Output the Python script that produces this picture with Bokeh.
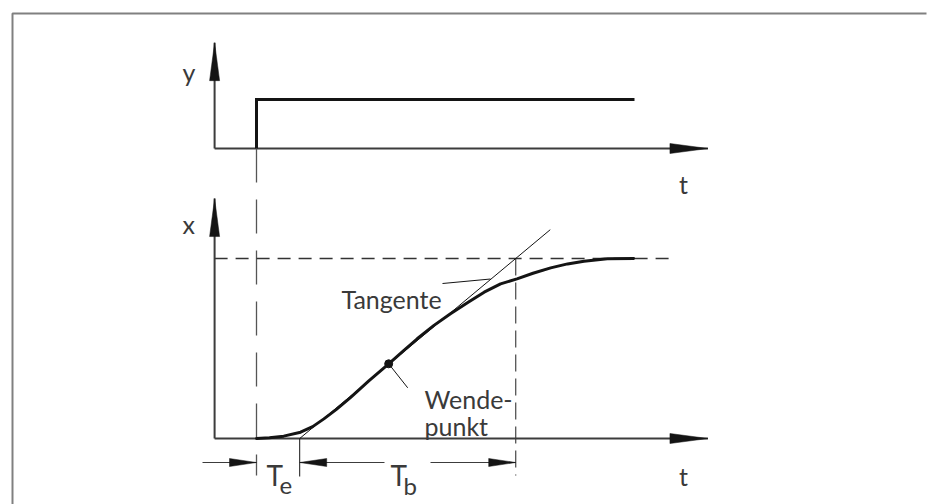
from bokeh.plotting import figure
from bokeh.models import Range1d
from bokeh.core.properties import value
from bokeh.embed import file_html
from bokeh.resources import INLINE

# ---------------- data (normalised units) ----------------
# step input y(t)
step_t = [0.0, 0.0, 8.75]
step_y = [0.0, 1.0, 1.0]

# step response x(t) (1 = final value)
resp_t = [0.0, 0.3, 0.63, 1.02, 1.3, 1.56, 1.85, 2.18, 2.6, 3.06, 3.4, 3.72,
          4.1, 4.49, 4.9, 5.27, 5.65, 6.03, 6.4, 6.81, 7.2, 7.58, 8.12, 8.73]
resp_x = [0.0, 0.004, 0.013, 0.035, 0.066, 0.109, 0.162, 0.229, 0.32, 0.415,
          0.487, 0.554, 0.627, 0.693, 0.757, 0.813, 0.859, 0.887, 0.918, 0.948,
          0.970, 0.985, 0.998, 1.0]

# inflection point (Wendepunkt)
infl_t = 3.06
infl_x = 0.415

# characteristic times
Te = 1.0
Tb = 5.0
tangent_end_t = 6.8

# axis extents
t_axis = [-0.97, 10.45]
u_axis_top = 2.16
v_axis_top = 1.333
level_end_t = 9.58

# labels
label_y = "y"
label_x = "x"
label_t = "t"
label_tangent = "Tangente"
label_wende = ["Wende-", "punkt"]
label_T = "T"
label_e = "e"
label_b = "b"

# ---------------- layout helpers (image px <-> data) ----------------
SX = 43.2    # px per time unit
SV = 180.0   # px per unit, lower panel
SU = 49.0    # px per unit, upper panel
X0, V0, U0 = 256.0, 438.0, 148.0
OFF = 0


def X2t(X):
    return (X - X0) / SX


def Y2v(Y):
    return (V0 - Y) / SV


def Y2u(Y):
    return (U0 - Y) / SU


def t2X(t):
    return X0 + SX * t


def v2Y(v):
    return V0 - SV * v


def u2Y(u):
    return U0 - SU * u


W, H = 927, 504
p = figure(width=W, height=H, output_backend="svg", toolbar_location=None,
           x_range=Range1d(X2t(OFF), X2t(OFF + W)),
           y_range=Range1d(Y2v(OFF + H), Y2v(OFF)),
           x_axis_type=None, y_axis_type=None, min_border=0)
p.extra_y_ranges = {"upper": Range1d(Y2u(OFF + H), Y2u(OFF))}
p.outline_line_color = None
p.xgrid.visible = False
p.ygrid.visible = False
p.background_fill_color = "white"
p.border_fill_color = "white"

AX = "#3c3c3c"
BLK = "#141414"
TXT = "#3a3a3a"


def tri(tipX, tipY, d, L, w):
    if d == "right":
        pts = [(tipX, tipY), (tipX - L, tipY - w), (tipX - L, tipY + w)]
    elif d == "left":
        pts = [(tipX, tipY), (tipX + L, tipY - w), (tipX + L, tipY + w)]
    else:
        pts = [(tipX, tipY), (tipX - w, tipY + L), (tipX + w, tipY + L)]
    return [q[0] for q in pts], [q[1] for q in pts]


# frame (left and top border)
p.line([X2t(12), X2t(12), X2t(926)], [Y2v(OFF + H), Y2v(13), Y2v(13)],
       line_color="#808080", line_width=2)

# ---------------- upper panel ----------------
p.line([t_axis[0], t_axis[0]], [0, u_axis_top], y_range_name="upper",
       line_color=AX, line_width=2)
p.line([t_axis[0], t_axis[1]], [0, 0], y_range_name="upper",
       line_color=AX, line_width=2)
xs, ys = tri(t2X(t_axis[0]), u2Y(u_axis_top), "up", 38, 5)
p.patch([X2t(v) for v in xs], [Y2u(v) for v in ys], y_range_name="upper",
        fill_color=BLK, line_color=BLK, line_width=0.5)
xs, ys = tri(t2X(t_axis[1]), u2Y(0), "right", 38, 5)
p.patch([X2t(v) for v in xs], [Y2u(v) for v in ys], y_range_name="upper",
        fill_color=BLK, line_color=BLK, line_width=0.5)
p.line(step_t, step_y, y_range_name="upper", line_color=BLK, line_width=3,
       line_join="miter")

# ---------------- lower panel ----------------
# dashed guides
p.line([0, 0], [Y2v(u2Y(0)), Y2v(475)], line_color="#555555", line_width=1.3,
       line_dash="34 17")
p.line([Te + Tb, Te + Tb], [1, Y2v(475)], line_color="#555555", line_width=1.3,
       line_dash="17 7")
p.line([t_axis[0], level_end_t], [1, 1], line_color="#333333", line_width=1.3,
       line_dash="13 8")

p.line([t_axis[0], t_axis[0]], [0, v_axis_top], line_color=AX, line_width=2)
p.line([t_axis[0], t_axis[1]], [0, 0], line_color=AX, line_width=2)
xs, ys = tri(t2X(t_axis[0]), v2Y(v_axis_top), "up", 38, 5)
p.patch([X2t(v) for v in xs], [Y2v(v) for v in ys],
        fill_color=BLK, line_color=BLK, line_width=0.5)
xs, ys = tri(t2X(t_axis[1]), v2Y(0), "right", 38, 5)
p.patch([X2t(v) for v in xs], [Y2v(v) for v in ys],
        fill_color=BLK, line_color=BLK, line_width=0.5)

# tangent
p.line([Te, tangent_end_t], [0, (tangent_end_t - Te) / Tb],
       line_color=BLK, line_width=1)

# response curve
p.line(resp_t, resp_x, line_color=BLK, line_width=3, line_join="round",
       line_cap="round")
p.scatter([infl_t], [infl_x], size=8, color=BLK)

# pointers
p.line([X2t(442), X2t(490)], [Y2v(283), Y2v(278.5)], line_color=BLK,
       line_width=1)
p.line([infl_t, X2t(t2X(infl_t) + 19)], [infl_x, Y2v(v2Y(infl_x) + 24)],
       line_color=BLK, line_width=1)

# dimension line Te / Tb
yd = Y2v(462)
p.line([Te, Te], [0, Y2v(476)], line_color=BLK, line_width=1)
p.line([X2t(202), 0], [yd, yd], line_color=AX, line_width=1)
p.line([Te, X2t(384)], [yd, yd], line_color=AX, line_width=1)
p.line([X2t(430), Te + Tb], [yd, yd], line_color=AX, line_width=1)
for tipt, d in [(0.0, "right"), (Te, "left"), (Te + Tb, "right")]:
    xs, ys = tri(t2X(tipt), 462, d, 27, 4)
    p.patch([X2t(v) for v in xs], [Y2v(v) for v in ys],
            fill_color=BLK, line_color=BLK, line_width=0.5)

# ---------------- texts ----------------
FONT = value("Lato")


def txt(X, Y, s, size, align="left"):
    p.text([X2t(X)], [Y2v(Y)], text=[s], text_font=FONT,
           text_font_size=f"{size}px", text_color=TXT, text_align=align,
           text_baseline="alphabetic")


txt(182, 71, label_y, 25)
txt(182, 223, label_x, 25)
txt(683, 183, label_t, 25, "center")
txt(683, 475, label_t, 25, "center")
txt(341, 298, label_tangent, 25)
txt(424, 398, label_wende[0], 25)
txt(424, 425, label_wende[1], 25)
txt(266, 474, label_T, 28)
txt(279, 485, label_e, 24)
txt(390, 474, label_T, 28)
txt(403, 485, label_b, 24)

open("out.html", "w").write(file_html(p, INLINE))
